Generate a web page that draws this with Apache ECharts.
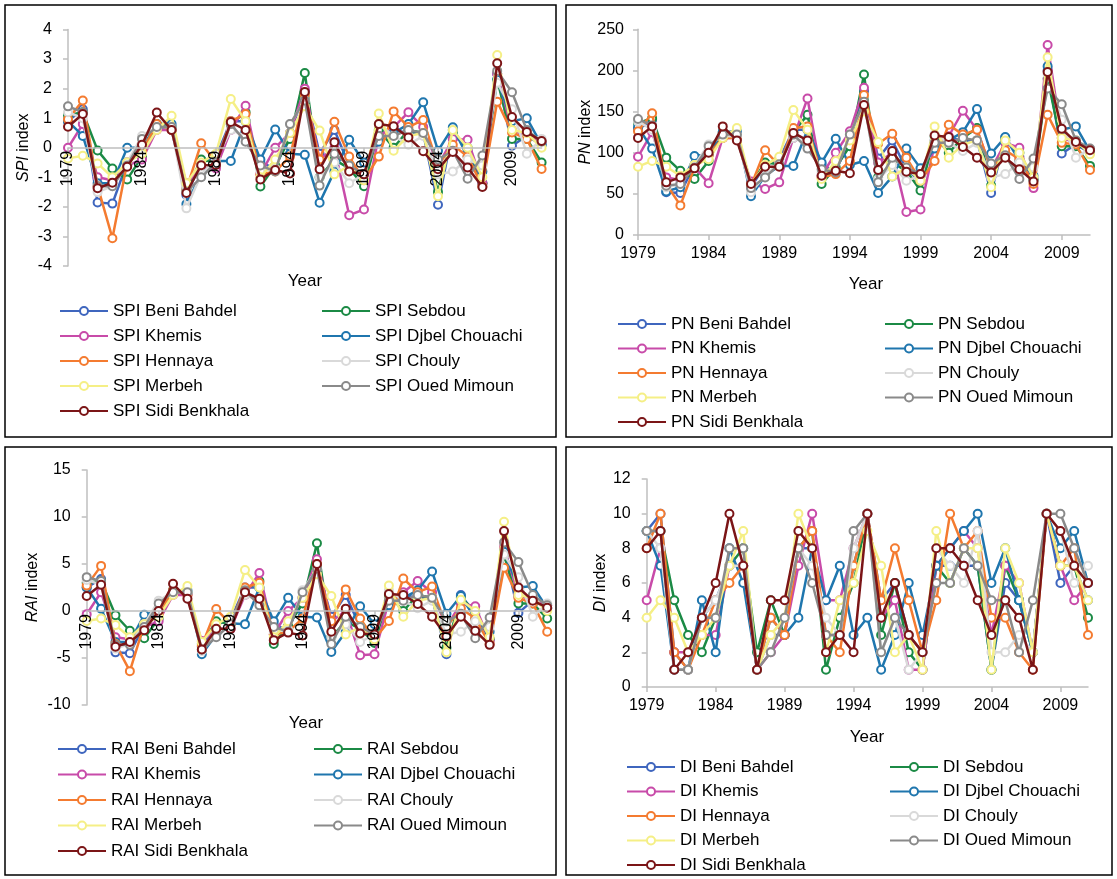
<!DOCTYPE html>
<html>
<head>
<meta charset="utf-8">
<script src="https://cdn.jsdelivr.net/npm/echarts@6/dist/echarts.min.js"></script>
<style>
html,body{margin:0;padding:0;background:#fff;}
#c{width:1117px;height:879px;}
</style>
</head>
<body>
<div id="c"></div>
<script>
// ---------- DATA ----------
const years = ['1979','1980','1981','1982','1983','1984','1985','1986','1987','1988','1989','1990','1991','1992','1993','1994','1995','1996','1997','1998','1999','2000','2001','2002','2003','2004','2005','2006','2007','2008','2009','2010','2011'];
const stations = ['Beni Bahdel','Sebdou','Khemis','Djbel Chouachi','Hennaya','Chouly','Merbeh','Oued Mimoun','Sidi Benkhala'];

// SPI
const spiBeniBahdel = [0.9,1.3,-1.85,-1.89,-0.5,0.0,0.7,0.6,-1.6,-0.5,-0.3,0.9,0.9,-0.5,-0.7,0.5,1.9,-0.2,0.6,-0.6,-1.1,0.5,0.6,0.5,0.5,-1.93,0.6,-0.1,-1.2,2.5,0.07,0.4,0.1];
const spiSebdou = [1.1,1.2,-0.09,-0.7,-1.07,-0.3,0.8,0.7,-1.4,-0.4,-0.5,0.8,1.2,-1.31,-0.6,0.3,2.53,-1.0,-0.4,-0.7,-1.3,0.6,0.0,0.6,0.5,-1.5,0.5,0.0,-1.2,2.3,0.3,0.3,-0.5];
const spiKhemis = [0.0,0.8,-1.0,-1.1,-0.6,-0.4,0.6,0.6,-1.2,-0.7,-0.7,0.6,1.42,-0.9,0.0,0.5,2.0,-0.4,0.0,-2.28,-2.09,0.4,0.7,1.2,0.7,-0.6,0.3,0.27,-1.2,2.5,0.6,0.4,0.2];
const spiDjbelChouachi = [0.9,0.4,-1.2,-1.2,0.0,0.0,0.8,0.8,-1.9,-0.9,-0.45,-0.45,0.9,-0.4,0.62,-0.2,-0.24,-1.86,-0.8,0.27,-0.5,0.2,0.5,0.8,1.54,-0.1,0.69,-0.3,-0.8,2.3,0.9,1.0,0.1];
const spiHennaya = [0.96,1.6,-1.3,-3.06,-0.5,-0.1,0.8,0.6,-1.4,0.15,-0.5,0.9,1.14,-0.9,-0.8,-0.3,1.8,-0.4,0.88,-0.3,-1.1,-0.3,1.23,0.7,0.94,-0.6,0.1,-0.3,-1.3,1.56,0.52,0.3,-0.72];
const spiChouly = [1.2,1.0,-1.5,-1.3,-0.5,0.4,0.7,0.7,-2.05,-0.9,-0.4,0.6,0.4,-0.8,-0.7,0.8,1.6,-1.0,-0.5,-1.2,-0.9,0.8,0.4,0.1,0.4,-0.9,-0.8,-0.4,-0.6,2.2,1.3,-0.2,0.3];
const spiMerbeh = [-0.36,-0.27,-0.53,-1.0,-0.5,-0.2,0.6,1.08,-1.2,-0.5,-0.2,1.65,0.9,-1.0,-0.4,0.5,1.4,0.58,-0.9,-0.6,-1.1,1.16,-0.1,0.4,0.5,-1.64,0.6,0.0,-1.0,3.14,0.6,0.5,0.0];
const spiOuedMimoun = [1.4,1.2,-1.3,-1.3,-0.6,0.3,0.7,0.7,-1.5,-1.0,-0.5,0.8,0.2,-0.6,-0.8,0.8,1.6,-1.28,-0.2,-0.6,-0.9,0.4,0.4,0.6,0.5,-0.4,-0.1,-1.05,-0.26,2.6,1.88,0.6,0.2];
const spiSidiBenkhala = [0.71,1.14,-1.37,-1.18,-0.64,0.1,1.19,0.6,-1.53,-0.59,-0.58,0.87,0.6,-1.07,-0.75,-0.87,1.89,-0.73,0.19,-0.8,-0.9,0.8,0.73,0.35,-0.12,-0.73,-0.14,-0.67,-1.33,2.86,1.04,0.53,0.23];

// PN
const pnBeniBahdel = [128,140,52,51,85,98,122,118,58,85,92,128,128,85,78,115,175,93,115,80,65,115,118,115,115,51,118,95,68,200,99,110,100];
const pnSebdou = [136,142,94,78,68,90,125,120,62,88,86,125,146,62,82,108,195,70,88,78,54,120,100,118,130,60,115,100,67,190,108,108,84];
const pnKhemis = [95,125,70,67,82,63,118,118,65,56,64,118,166,72,100,126,179,88,100,28,31,110,120,151,128,80,112,106,57,231,118,112,104];
const pnDjbelChouachi = [131,105,53,58,96,98,125,126,47,72,84,84,128,88,117,85,90,51,71,105,81,105,115,125,153,99,119,90,72,205,128,132,102];
const pnHennaya = [126,148,62,36,82,97,118,118,60,103,84,130,132,70,74,90,170,111,123,94,66,90,134,122,128,80,103,92,62,146,112,110,79];
const pnChouly = [138,128,58,62,85,110,120,120,52,72,88,118,112,76,78,122,160,68,85,66,72,122,112,102,112,70,74,88,82,195,140,94,105];
const pnMerbeh = [83,90,83,72,85,92,118,130,62,85,95,152,128,68,90,115,150,113,71,82,66,132,94,110,115,58,115,100,70,216,118,115,98];
const pnOuedMimoun = [141,133,60,62,82,108,122,122,57,70,86,122,105,80,76,122,162,64,94,82,74,112,112,118,115,87,97,68,93,178,159,115,105];
const pnSidiBenkhala = [118,132,64,70,81,100,132,115,62,83,83,124,115,72,78,75,158,79,102,77,74,121,119,107,94,76,94,80,65,198,129,113,103];

// RAI
const raiBeniBahdel = [2.5,3.4,-4.4,-4.5,-1.5,0,2.0,1.8,-3.8,-1.4,-0.9,2.5,2.5,-1.5,-2.0,1.4,4.8,-0.6,1.7,-1.7,-3.0,1.4,1.7,1.4,1.4,-4.6,1.7,-0.3,-3.0,6.5,-0.2,1.1,0.3];
const raiSebdou = [3.0,3.2,-0.45,-2.1,-2.9,-0.8,2.2,2.0,-3.5,-1.1,-1.4,2.2,3.2,-3.5,-1.6,0.8,7.2,-2.8,-1.1,-1.9,-3.4,1.7,0,1.7,1.4,-3.9,1.4,0,-3.0,6.0,0.8,0.8,-0.8];
const raiKhemis = [-0.35,2.0,-2.8,-3.0,-1.7,-1.1,1.7,1.7,-3.2,-1.9,-1.9,1.7,4.05,-2.5,0,1.4,5.5,-1.1,0,-4.7,-4.6,1.1,2.0,3.2,2.0,-1.7,0.8,0.5,-3.2,6.8,1.7,1.1,0.6];
const raiDjbelChouachi = [2.5,0.25,-3.3,-3.3,-0.4,0,2.2,2.2,-4.6,-2.5,-1.3,-1.4,2.5,-1.1,1.4,-0.6,-0.7,-4.35,-2.2,0.5,-1.4,0.6,1.4,2.2,4.2,-0.3,1.6,-0.8,-2.2,6.3,2.5,2.65,0.3];
const raiHennaya = [2.7,4.8,-3.5,-6.4,-1.4,-0.3,2.2,1.7,-3.7,0.2,-1.4,2.5,3.0,-2.5,-2.2,-0.8,5.0,-1.1,2.3,-0.8,-3.0,-1.06,3.46,2.0,2.6,-1.7,0.3,-0.8,-3.5,4.6,1.4,0.8,-2.2];
const raiChouly = [3.3,2.8,-4.0,-3.5,-1.4,1.1,2.0,2.0,-4.25,-2.5,-1.1,1.7,1.1,-2.2,-2.0,2.2,4.5,-2.8,-1.4,-3.3,-2.5,2.2,1.1,0.3,1.1,-2.5,-2.2,-1.1,-1.7,6.0,3.6,-0.6,0.8];
const raiMerbeh = [-1.06,-0.8,-1.5,-2.8,-1.4,-0.6,1.7,2.65,-3.3,-1.4,-0.6,4.35,2.5,-2.8,-1.1,1.4,3.9,1.6,-2.5,-1.7,-3.0,2.7,-0.6,1.1,1.4,-4.4,1.2,0,-2.8,9.5,1.7,1.4,0];
const raiOuedMimoun = [3.6,3.2,-3.6,-3.6,-1.7,0.8,2.0,2.0,-4.1,-2.8,-1.4,2.2,0.6,-1.7,-2.2,2.0,4.5,-3.5,-0.6,-1.7,-2.5,1.1,1.1,1.7,1.4,-1.1,-0.3,-2.9,-0.7,7.3,5.2,1.7,0.6];
const raiSidiBenkhala = [1.6,2.8,-3.8,-3.3,-2.05,0,2.9,1.3,-4.1,-1.9,-1.9,2.0,1.3,-3.1,-2.3,-2.6,5.0,-2.2,0.25,-2.4,-2.5,1.8,1.7,0.75,-0.6,-2.7,-0.6,-2.1,-3.6,8.5,2.5,1.1,0.35];

// DI
const diBeniBahdel = [9,10,2,1,4,5,7,7,1,3,3,8,8,3,3,7,10,5,6,3,2,7,7,7,7,1,6,5,2,10,6,7,5];
const diSebdou = [9,9,5,3,2,4,7,8,2,5,3,8,9,1,4,6,10,3,6,2,1,7,6,8,7,1,7,5,2,10,7,7,4];
const diKhemis = [5,8,2,2,3,3,7,7,1,2,3,7,10,5,5,8,10,4,5,1,1,7,8,9,8,3,7,6,2,10,7,5,6];
const diDjbelChouachi = [9,7,1,1,5,2,8,6,1,4,3,4,8,5,7,3,4,1,3,6,3,7,8,9,10,6,8,5,2,10,8,9,6];
const diHennaya = [8,10,2,1,3,5,6,7,1,4,3,8,9,3,2,7,10,5,8,5,2,5,10,8,9,4,4,2,1,10,7,8,3];
const diChouly = [9,8,1,1,4,5,7,7,1,3,4,8,7,4,3,8,10,2,4,1,2,8,7,6,9,2,2,3,2,10,9,6,7];
const diMerbeh = [4,5,4,2,3,4,7,9,1,3,4,10,8,2,5,6,9,7,2,3,1,9,6,8,8,1,8,6,2,10,7,7,5];
const diOuedMimoun = [9,9,1,1,4,4,8,8,1,2,4,8,6,3,3,9,10,2,4,3,2,6,6,8,7,5,5,2,5,10,10,8,6];
const diSidiBenkhala = [8,9,1,2,4,6,10,7,1,5,5,9,8,2,3,2,10,4,6,3,2,8,8,7,5,3,5,4,1,10,9,7,6];

// ---------- CHART ----------
const panelData = [
  [spiBeniBahdel,spiSebdou,spiKhemis,spiDjbelChouachi,spiHennaya,spiChouly,spiMerbeh,spiOuedMimoun,spiSidiBenkhala],
  [pnBeniBahdel,pnSebdou,pnKhemis,pnDjbelChouachi,pnHennaya,pnChouly,pnMerbeh,pnOuedMimoun,pnSidiBenkhala],
  [raiBeniBahdel,raiSebdou,raiKhemis,raiDjbelChouachi,raiHennaya,raiChouly,raiMerbeh,raiOuedMimoun,raiSidiBenkhala],
  [diBeniBahdel,diSebdou,diKhemis,diDjbelChouachi,diHennaya,diChouly,diMerbeh,diOuedMimoun,diSidiBenkhala]
];
const prefixes = ['SPI','PN','RAI','DI'];
const colors = ['#3F66BE','#1B8A45','#C84BA9','#1F76AE','#F47B30','#D9D9D9','#F5EF86','#8A8A8A','#7B1517'];

const FONT = 'Liberation Sans, Arial, sans-serif';
const axisGray = '#BFBFBF';

const grids = [
  {left:68, top:29.5, width:473.6, height:236.5},
  {left:638, top:29.3, width:452, height:205.7},
  {left:86.7, top:470, width:460.5, height:235},
  {left:646.7, top:479, width:441.3, height:208}
];

const yCfg = [
  {min:-4,max:4,interval:1,name:'{i|SPI} index',gap:36,margin:16},
  {min:0,max:250,interval:50,name:'{i|PN} index',gap:36,margin:14},
  {min:-10,max:15,interval:5,name:'{i|RAI} index',gap:46,margin:16},
  {min:0,max:12,interval:2,name:'{i|DI} index',gap:38,margin:16}
];
// x axis sits on the zero line for SPI and RAI panels
const xOffsets = [-118.25, 0, -94, 0];
const rotated = [true,false,true,false];

const xAxes = grids.map((g,i)=>({
  type:'category', gridIndex:i, data:years, boundaryGap:false, position:'bottom', offset:xOffsets[i],
  z: rotated[i] ? 10 : 0,
  axisLine:{onZero:false, lineStyle:{color:axisGray,width:1.5}},
  axisTick:{show:true, interval:4, length:5, lineStyle:{color:axisGray,width:1.5}},
  axisLabel:{interval:4, rotate: rotated[i]?90:0, margin: rotated[i]?3:11, color:'#000', fontSize:16, fontFamily:FONT, hideOverlap:false},
  splitLine:{show:false}
}));
const yAxes = yCfg.map((c,i)=>({
  type:'value', gridIndex:i, min:c.min, max:c.max, interval:c.interval,
  name:c.name, nameLocation:'middle', nameGap:c.gap, nameRotate:90,
  nameTextStyle:{fontSize:16, color:'#000', fontFamily:FONT, rich:{i:{fontStyle:'italic', fontSize:16, color:'#000', fontFamily:FONT}}},
  axisLine:{show:true, lineStyle:{color:axisGray,width:1.5}},
  axisTick:{show:true, length:5, lineStyle:{color:axisGray,width:1.5}},
  axisLabel:{color:'#000', fontSize:16, fontFamily:FONT, margin:c.margin},
  splitLine:{show:false}
}));

const series = [];
panelData.forEach((arrs,p)=>{
  arrs.forEach((arr,s)=>{
    series.push({
      type:'line', name: prefixes[p]+' '+stations[s], xAxisIndex:p, yAxisIndex:p,
      data: arr, color: colors[s], symbol:'emptyCircle', symbolSize:8,
      lineStyle:{width:2.5, color:colors[s]},
      itemStyle:{color:colors[s], borderColor:colors[s], borderWidth:1.5},
      emphasis:{disabled:true}, z: 2 + s*0.01
    });
  });
});

// legends: two columns per panel
const legendPos = [
  {c1:59, c2:321, top:302, gap:7},
  {c1:617, c2:884, top:315, gap:6.5},
  {c1:57, c2:313, top:740, gap:7.5},
  {c1:626, c2:889, top:758, gap:6.5}
];
const legends = [];
legendPos.forEach((lp,p)=>{
  const col1 = [0,2,4,6,8].map(s=>prefixes[p]+' '+stations[s]);
  const col2 = [1,3,5,7].map(s=>prefixes[p]+' '+stations[s]);
  [[col1,lp.c1],[col2,lp.c2]].forEach(([d,l])=>{
    legends.push({
      data:d, orient:'vertical', left:l, top:lp.top, itemGap:lp.gap,
      itemWidth:48, itemHeight:10, padding:0, selectedMode:false,
      textStyle:{fontSize:17, color:'#000', fontFamily:FONT, lineHeight:18}
    });
  });
});

const boxes = [[5,5,551,432],[566,5,546,432],[5,447,551,428],[566,447,546,428]];
const yearPos = [[305,281],[866,284],[306,723],[867,737]];
const graphic = [];
boxes.forEach(b=>graphic.push({type:'rect', shape:{x:b[0],y:b[1],width:b[2],height:b[3]}, style:{fill:'none', stroke:'#000', lineWidth:1.5}, silent:true}));
yearPos.forEach(p=>graphic.push({type:'text', x:p[0], y:p[1], style:{text:'Year', font:'17px '+FONT, fill:'#000', textAlign:'center', textVerticalAlign:'middle'}, silent:true}));

const chart = echarts.init(document.getElementById('c'), null, {renderer:'canvas'});
chart.setOption({
  animation:false,
  backgroundColor:'#fff',
  grid: grids.map(g=>Object.assign({containLabel:false}, g)),
  xAxis:xAxes, yAxis:yAxes, series:series, legend:legends, graphic:graphic,
  tooltip:{show:false}
});
</script>
</body>
</html>
